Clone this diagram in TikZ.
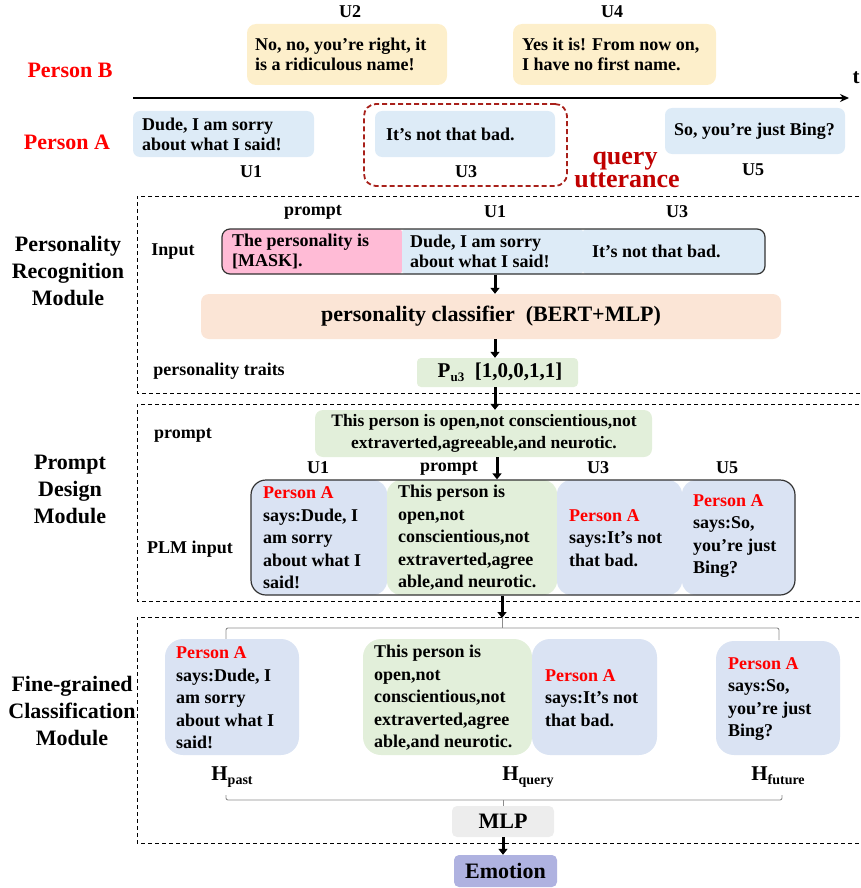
\documentclass[tikz,border=0pt]{standalone}
\usepackage{fontspec}
\setmainfont{Liberation Serif}
\usetikzlibrary{arrows.meta}
\newcommand\myfs[2]{\fontsize{#1}{#2}\selectfont}
\definecolor{cyel}{HTML}{FDEFCB}
\definecolor{cblue}{HTML}{DDEBF7}
\definecolor{cblue2}{HTML}{DAE3F3}
\definecolor{cpink}{HTML}{FFBBD6}
\definecolor{cpeach}{HTML}{FBE5D6}
\definecolor{cgreen}{HTML}{E2EFDA}
\definecolor{cgray}{HTML}{EDEDED}
\definecolor{cemo}{HTML}{AFB2E0}
\definecolor{cdred}{HTML}{A8201A}
\definecolor{cqred}{HTML}{C00000}
\definecolor{pred}{HTML}{FF0000}
\definecolor{cdk}{HTML}{333333}
\definecolor{cbr}{HTML}{8C8C8C}
\newcommand\pa{\textcolor{pred}{Person A}}
\begin{document}
\begin{tikzpicture}[x=1pt,y=-1pt,
  txt/.style={font={\bfseries\myfs{18}{20}}, inner sep=0pt, align=left, anchor=west},
  plm/.style={font={\bfseries\myfs{18}{22.5}}, inner sep=0pt, align=left, anchor=west},
  lbl/.style={font={\bfseries\myfs{18}{20}}, inner sep=0pt},
  big/.style={font={\bfseries\myfs{22}{27}}, inner sep=0pt, align=center},
  seg/.style={inner sep=0pt, draw=none},
  modframe/.style={draw=black, line width=1pt, dash pattern=on 4pt off 3pt},
  arr/.style={line width=3pt, -{Triangle[length=6pt,width=9pt]}},
  brk/.style={draw=cbr, line width=0.9pt, rounded corners=2pt},
]
\useasboundingbox (0,0) rectangle (861,888);

% ---------------- top: conversation ----------------
\node[lbl] (lu2) at (350,12) {U2};
\node[lbl] (lu4) at (612,12) {U4};
\node[seg, fill=cyel, rounded corners=9pt, minimum width=200pt, minimum height=61pt] (u2) at (347,54.5) {};
\node[txt] (u2t) at (255,54.5) {No, no, you’re right, it\\is a ridiculous name!};
\node[seg, fill=cyel, rounded corners=9pt, minimum width=203pt, minimum height=61pt] (u4) at (614.5,54.5) {};
\node[txt] (u4t) at (522,54.5) {Yes it is! From now on,\\I have no first name.};

\node[big, text=pred] (pb) at (70,70) {Person B};
\node[big, text=pred] (pA) at (67,142) {Person A};

\coordinate (ax0) at (133,98);
\coordinate (ax1) at (849,98);
\draw[line width=2pt, -{Stealth[length=9pt,width=8pt]}] (ax0) -- (ax1);
\node[font={\bfseries\myfs{21}{21}}, inner sep=0pt] (tl) at (856,78) {t};

\node[seg, fill=cblue, rounded corners=7pt, minimum width=181pt, minimum height=46pt] (u1) at (223.5,134) {};
\node[txt] (u1t) at (142,134) {Dude, I am sorry\\about what I said!};
\node[lbl] (lu1) at (251,172) {U1};

\node[seg, fill=cblue, rounded corners=7pt, minimum width=180pt, minimum height=46pt] (u3) at (465,134) {};
\node[txt] (u3t) at (386,134) {It’s not that bad.};
\node[lbl] (lu3) at (466,172) {U3};
\node[draw=cdred, line width=1.8pt, dash pattern=on 5pt off 3pt, rounded corners=12pt, minimum width=203pt, minimum height=82pt, inner sep=0pt] (qbox) at (465.5,145) {};
\node[font={\bfseries\myfs{26}{26}}, text=cqred, inner sep=0pt, anchor=base] (q1) at (625,164) {query};
\node[font={\bfseries\myfs{26}{26}}, text=cqred, inner sep=0pt, anchor=base] (q2) at (627,187.5) {utterance};

\node[seg, fill=cblue, rounded corners=7pt, minimum width=180pt, minimum height=46pt] (u5) at (755,131) {};
\node[txt] (u5t) at (674,131) {So, you’re just Bing?};
\node[lbl] (lu5) at (753,170) {U5};

% ---------------- Personality Recognition Module ----------------
\draw[modframe] (866,196) -- (137,196) -- (137,393) -- (866,393);
\node[big] (m1) at (68,271) {Personality\\Recognition\\Module};
\node[lbl] (lpr) at (313,212) {prompt};
\node[lbl] (lpu1) at (495,212) {U1};
\node[lbl] (lpu3) at (677,212) {U3};
\node[lbl] (linp) at (173,252) {Input};
\begin{scope}
\clip[rounded corners=8pt] (222,229) rectangle (765,274);
\node[seg, fill=cpink, rounded corners=3pt, minimum width=180pt, minimum height=45pt] (ip) at (312,251.5) {};
\node[seg, fill=cblue, rounded corners=3pt, minimum width=181pt, minimum height=45pt] (iu1) at (492.5,251.5) {};
\node[seg, fill=cblue, rounded corners=3pt, minimum width=182pt, minimum height=45pt] (iu3) at (674,251.5) {};
\end{scope}
\node[draw=cdk, line width=1.2pt, rounded corners=8pt, minimum width=543pt, minimum height=45pt, inner sep=0pt] (inp) at (493.5,251.5) {};
\node[txt] (ipt) at (232,251.5) {The personality is\\{[MASK].}};
\node[txt] (iu1t) at (410,251.5) {Dude, I am sorry\\about what I said!};
\node[txt] (iu3t) at (592,251.5) {It’s not that bad.};

\coordinate (cx) at (495,0);
\node[seg, fill=cpeach, rounded corners=8pt, minimum width=580pt, minimum height=45pt] (cls) at (491,316.5) {};
\node[font={\bfseries\myfs{22}{22}}, inner sep=0pt] (clst) at (491,316.5) {personality classifier\ \ (BERT+MLP)};
\draw[arr] (inp.south -| cx) -- (cls.north -| cx);

\node[lbl] (lpt) at (219,371) {personality traits};
\node[seg, fill=cgreen, rounded corners=4pt, minimum width=161pt, minimum height=29pt] (pbox) at (497.5,372.5) {};
\node[font={\bfseries\myfs{21}{21}}, inner sep=0pt] (pboxt) at (500,372) {P\raisebox{-4pt}{\myfs{13}{13}u3}\ \ [1,0,0,1,1]};
\draw[arr] (cls.south -| cx) -- (pbox.north -| cx);

% ---------------- Prompt Design Module ----------------
\draw[modframe] (866,404) -- (137,404) -- (137,601) -- (866,601);
\node[big] (m2) at (70,489) {Prompt\\Design\\Module};
\node[lbl] (lprm) at (183,435) {prompt};
\node[seg, fill=cgreen, rounded corners=8pt, minimum width=337pt, minimum height=47pt] (prm) at (483.5,433.5) {};
\node[font={\bfseries\myfs{17.5}{22}}, inner sep=0pt, align=center] (prmt) at (484,433.5) {This person is open,not conscientious,not\\extraverted,agreeable,and neurotic.};
\draw[arr] (pbox.south -| cx) -- (prm.north -| cx);

\node[lbl] (lq1) at (318,468) {U1};
\node[lbl] (lq2) at (449,468) {prompt};
\node[lbl] (lq3) at (598,468) {U3};
\node[lbl] (lq5) at (727,468) {U5};
\node[lbl] (lplm) at (190,549) {PLM input};
\coordinate (cx2) at (497,0);
\begin{scope}
\clip[rounded corners=15pt] (251,480) rectangle (795,595);
\node[seg, fill=cblue2, rounded corners=14pt, minimum width=136pt, minimum height=115pt] (s1) at (319,537.5) {};
\node[seg, fill=cgreen, rounded corners=14pt, minimum width=170pt, minimum height=115pt] (s2) at (472,537.5) {};
\node[seg, fill=cblue2, rounded corners=14pt, minimum width=125pt, minimum height=115pt] (s3) at (619.5,537.5) {};
\node[seg, fill=cblue2, rounded corners=14pt, minimum width=113pt, minimum height=115pt] (s4) at (738.5,537.5) {};
\end{scope}
\node[draw=cdk, line width=1.2pt, rounded corners=15pt, minimum width=544pt, minimum height=115pt, inner sep=0pt] (plmbox) at (523,537.5) {};
\node[plm] (s1t) at (263,538) {\pa\\says:Dude, I\\am sorry\\about what I\\said!};
\node[plm] (s2t) at (398,538) {This person is\\open,not\\conscientious,not\\extraverted,agree\\able,and neurotic.};
\node[plm] (s3t) at (569,538) {\pa\\says:It’s not\\that bad.};
\node[plm] (s4t) at (693,536) {\pa\\says:So,\\you’re just\\Bing?};
\draw[arr] (prm.south -| cx2) -- (plmbox.north -| cx2);

% ---------------- Fine-grained Classification Module ----------------
\draw[modframe] (866,617) -- (137,617) -- (137,843) -- (866,843);
\node[big] (m3) at (72,711) {Fine-grained\\Classification\\Module};
\coordinate (btop) at (502,628);
\coordinate (ahead) at (502,618);
\draw[arr] (plmbox.south -| btop) -- (ahead);
\draw[brk] (226,640) -- (226,628) -- (779,628) -- (779,640);
\draw[draw=cbr, line width=0.9pt] (ahead) -- (btop);

\node[seg, fill=cblue2, rounded corners=18pt, minimum width=134pt, minimum height=116pt] (f1) at (232,697) {};
\node[seg, fill=cgreen, rounded corners=18pt, minimum width=169pt, minimum height=116pt] (f2) at (447.5,697) {};
\node[seg, fill=cblue2, rounded corners=18pt, minimum width=125pt, minimum height=116pt] (f3) at (594.5,697) {};
\node[seg, fill=cblue2, rounded corners=18pt, minimum width=124pt, minimum height=114pt] (f4) at (778,698) {};
\node[plm] (f1t) at (176,698) {\pa\\says:Dude, I\\am sorry\\about what I\\said!};
\node[plm] (f2t) at (374,698) {This person is\\open,not\\conscientious,not\\extraverted,agree\\able,and neurotic.};
\node[plm] (f3t) at (545,698) {\pa\\says:It’s not\\that bad.};
\node[plm] (f4t) at (728,699) {\pa\\says:So,\\you’re just\\Bing?};

\node[font={\bfseries\myfs{21}{21}}, inner sep=0pt, anchor=base] (h1) at (232,780) {H\raisebox{-4pt}{\myfs{14}{14}past}};
\node[font={\bfseries\myfs{21}{21}}, inner sep=0pt, anchor=base] (h2) at (528,780) {H\raisebox{-4pt}{\myfs{14}{14}query}};
\node[font={\bfseries\myfs{21}{21}}, inner sep=0pt, anchor=base] (h3) at (778,780) {H\raisebox{-4pt}{\myfs{14}{14}future}};

\draw[brk] (226,795) -- (226,800) -- (782,800) -- (782,795);
\coordinate (bbot) at (503,800);
\node[seg, fill=cgray, rounded corners=5pt, minimum width=102pt, minimum height=31pt] (mlp) at (503,821.5) {};
\node[font={\bfseries\myfs{22}{22}}, inner sep=0pt] (mlpt) at (503,821.5) {MLP};
\draw[draw=cbr, line width=0.9pt] (bbot) -- (mlp.north -| bbot);

\node[seg, fill=cemo, rounded corners=5pt, minimum width=103pt, minimum height=32pt] (emo) at (505.5,871) {};
\node[font={\bfseries\myfs{22}{22}}, inner sep=0pt] (emot) at (505.5,871) {Emotion};
\draw[arr] (mlp.south -| bbot) -- (emo.north -| bbot);
\end{tikzpicture}
\end{document}
